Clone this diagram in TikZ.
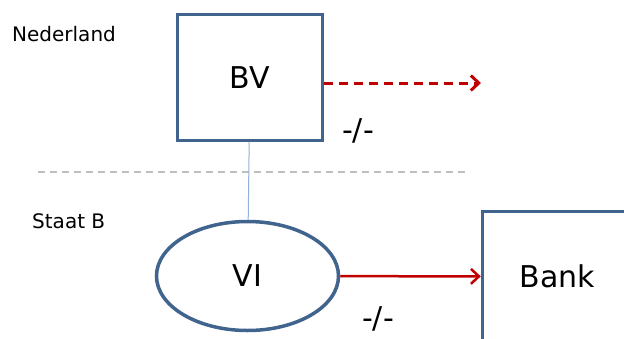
\documentclass[tikz,border=0pt]{standalone}
\usepackage{fontspec}
\setmainfont{DejaVu Sans}
\usetikzlibrary{shapes.geometric,arrows.meta}
\definecolor{boxblue}{HTML}{41648F}
\definecolor{linkblue}{HTML}{8FB1DA}
\definecolor{flowred}{HTML}{C00000}

\begin{document}
\begin{tikzpicture}[x=1pt,y=-1pt,
    entity/.style={draw=boxblue,line width=3.5pt,inner sep=0pt,font=\fontsize{30}{30}\selectfont},
    region/.style={font=\fontsize{20}{20}\selectfont,anchor=base west,inner sep=0pt},
    nope/.style={font=\fontsize{30}{30}\selectfont,inner sep=0pt}]
    \useasboundingbox (0,0) rectangle (624,338);

    \node[region] (NL) at (12, 41) {Nederland};
    \node[region] (SB) at (32, 228) {Staat B};

    \node[entity,rectangle,minimum width=145pt,minimum height=126pt] (BV) at (250, 77.5) {BV};
    \node[entity,ellipse,minimum width=182pt,minimum height=109pt] (VI) at (247.5, 276) {VI};
    \node[entity,rectangle,minimum width=150pt,minimum height=130pt] (Bank) at (557.5, 276.5) {Bank};

    \node[nope] (N1) at (358, 131) {-/-};
    \node[nope] (N2) at (378, 319) {-/-};

    \coordinate (out) at (481, 83);
    \coordinate (L) at (38, 172);
    \coordinate (R) at (470, 172);

    \draw[gray!50,line width=1.5pt,dash pattern=on 7pt off 5pt] (L) -- (R);
    \path[-] (BV) edge[draw=linkblue,line width=1pt] (VI);
    \path[-{Straight Barb[length=8pt,width=15pt]}] (BV.east |- out) edge[draw=flowred,line width=3pt,dash pattern=on 9pt off 6pt] (out);
    \path[-{Straight Barb[length=8pt,width=15pt]}] (VI) edge[draw=flowred,line width=2.5pt] (Bank);
  \end{tikzpicture}
\end{document}
